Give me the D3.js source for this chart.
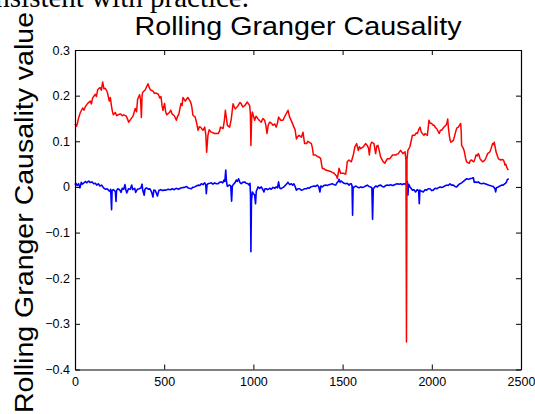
<!DOCTYPE html>
<html>
<head>
<meta charset="utf-8">
<script src="https://cdn.jsdelivr.net/npm/d3@7"></script>
<style>
  html, body { margin: 0; padding: 0; background: #fff; }
  svg { display: block; }
</style>
</head>
<body>
<script>
// ---------- data ----------
const titleText = "Rolling Granger Causality";
const yLabelText = "Rolling Granger Causality value";
const captionText = "consistent with practice.";
const xTicks = [0, 500, 1000, 1500, 2000, 2500];
const yTicks = [-0.4, -0.3, -0.2, -0.1, 0, 0.1, 0.2, 0.3];
const xDomain = [0, 2500];
const yDomain = [-0.4, 0.3];

// red series: [observation index, value]
const redSeries = [[0,0.138],[9,0.133],[21,0.152],[30,0.163],[43,0.173],[50,0.168],[58,0.176],[71,0.183],[86,0.188],[92,0.182],[99,0.195],[114,0.203],[120,0.198],[127,0.213],[140,0.218],[148,0.212],[155,0.23],[162,0.215],[170,0.216],[181,0.208],[192,0.188],[198,0.196],[204,0.178],[210,0.165],[215,0.158],[226,0.163],[234,0.156],[241,0.158],[256,0.16],[265,0.156],[273,0.158],[288,0.155],[295,0.148],[301,0.142],[312,0.148],[325,0.155],[338,0.172],[345,0.165],[351,0.192],[362,0.202],[368,0.19],[372,0.152],[376,0.2],[379,0.207],[394,0.213],[402,0.22],[409,0.226],[416,0.218],[422,0.213],[437,0.21],[445,0.205],[452,0.206],[467,0.203],[475,0.195],[482,0.198],[488,0.178],[493,0.168],[502,0.183],[508,0.165],[514,0.158],[529,0.163],[537,0.168],[544,0.16],[557,0.156],[568,0.146],[575,0.155],[581,0.158],[594,0.183],[600,0.178],[605,0.196],[618,0.188],[625,0.192],[633,0.196],[648,0.186],[655,0.175],[661,0.157],[674,0.153],[682,0.14],[690,0.124],[697,0.132],[704,0.131],[717,0.124],[727,0.131],[733,0.115],[738,0.076],[745,0.113],[752,0.125],[764,0.12],[783,0.117],[802,0.117],[810,0.122],[815,0.131],[830,0.128],[837,0.145],[843,0.168],[849,0.15],[854,0.135],[867,0.131],[876,0.149],[886,0.182],[893,0.175],[899,0.171],[914,0.178],[925,0.185],[932,0.182],[940,0.175],[951,0.178],[966,0.186],[979,0.178],[983,0.16],[986,0.091],[990,0.15],[994,0.164],[1007,0.146],[1015,0.155],[1026,0.149],[1035,0.145],[1044,0.142],[1053,0.15],[1063,0.146],[1070,0.135],[1076,0.117],[1083,0.135],[1091,0.142],[1100,0.14],[1110,0.135],[1120,0.138],[1128,0.131],[1135,0.14],[1141,0.153],[1153,0.146],[1166,0.146],[1179,0.157],[1186,0.162],[1194,0.168],[1203,0.153],[1216,0.142],[1227,0.131],[1234,0.125],[1241,0.105],[1248,0.11],[1256,0.113],[1269,0.109],[1278,0.12],[1287,0.095],[1298,0.095],[1305,0.1],[1312,0.098],[1325,0.095],[1331,0.085],[1336,0.07],[1349,0.07],[1362,0.066],[1370,0.065],[1377,0.062],[1382,0.05],[1386,0.041],[1395,0.04],[1405,0.037],[1415,0.036],[1424,0.035],[1433,0.034],[1442,0.032],[1452,0.03],[1461,0.026],[1466,0.024],[1470,0.019],[1476,0.03],[1480,0.041],[1489,0.03],[1504,0.03],[1517,0.028],[1522,0.04],[1526,0.055],[1536,0.059],[1549,0.055],[1560,0.07],[1569,0.088],[1579,0.095],[1588,0.08],[1595,0.088],[1601,0.084],[1616,0.088],[1629,0.095],[1638,0.091],[1645,0.085],[1650,0.07],[1656,0.092],[1663,0.098],[1676,0.095],[1685,0.073],[1692,0.09],[1698,0.091],[1705,0.08],[1713,0.066],[1728,0.055],[1737,0.052],[1751,0.062],[1765,0.062],[1780,0.07],[1797,0.07],[1812,0.073],[1825,0.08],[1838,0.073],[1850,0.077],[1855,0.06],[1858,-0.34],[1861,0.06],[1866,0.08],[1877,0.088],[1884,0.1],[1891,0.113],[1904,0.113],[1912,0.118],[1919,0.117],[1926,0.125],[1934,0.131],[1941,0.12],[1947,0.117],[1956,0.113],[1962,0.117],[1975,0.113],[1980,0.13],[1984,0.146],[1990,0.14],[1999,0.139],[2007,0.135],[2014,0.135],[2020,0.13],[2027,0.128],[2035,0.122],[2042,0.117],[2048,0.124],[2055,0.124],[2062,0.128],[2068,0.131],[2079,0.135],[2085,0.14],[2089,0.149],[2093,0.13],[2098,0.113],[2103,0.102],[2107,0.098],[2114,0.1],[2121,0.102],[2128,0.112],[2136,0.124],[2142,0.13],[2149,0.131],[2155,0.135],[2162,0.139],[2165,0.12],[2167,0.091],[2172,0.088],[2177,0.084],[2182,0.078],[2186,0.07],[2190,0.062],[2195,0.055],[2203,0.053],[2210,0.052],[2216,0.058],[2223,0.059],[2230,0.056],[2236,0.055],[2242,0.062],[2248,0.07],[2255,0.068],[2261,0.073],[2266,0.068],[2270,0.062],[2278,0.058],[2285,0.055],[2292,0.057],[2298,0.059],[2305,0.065],[2313,0.073],[2320,0.075],[2326,0.077],[2333,0.085],[2341,0.095],[2346,0.093],[2350,0.098],[2355,0.088],[2360,0.077],[2366,0.07],[2373,0.062],[2380,0.06],[2386,0.059],[2394,0.06],[2401,0.059],[2406,0.055],[2410,0.048],[2415,0.05],[2419,0.044],[2424,0.04],[2429,0.037]];

// blue series: [observation index, value]
const blueSeries = [[0,0.005],[5,0.008],[12,0.003],[20,0.007],[28,-0.002],[35,0.01],[40,0.006],[48,0.008],[58,0.012],[65,0.009],[77,0.013],[84,0.01],[95,0.011],[105,0.007],[114,0.008],[122,0.004],[131,0.007],[140,0.002],[150,0.004],[160,-0.002],[170,-0.005],[180,-0.004],[190,-0.008],[196,-0.01],[200,-0.005],[205,-0.05],[208,-0.008],[215,-0.006],[226,-0.01],[230,-0.032],[233,-0.008],[240,-0.004],[250,-0.006],[258,-0.012],[265,-0.003],[273,-0.005],[280,0.005],[285,-0.006],[290,-0.013],[300,-0.004],[310,-0.005],[318,0.004],[324,-0.006],[335,-0.003],[340,-0.012],[350,-0.005],[360,-0.004],[370,-0.002],[376,0.006],[380,-0.008],[388,-0.018],[392,-0.005],[400,-0.002],[413,-0.005],[420,-0.004],[430,-0.012],[437,-0.022],[442,-0.007],[450,-0.008],[462,-0.02],[470,-0.008],[480,-0.006],[492,-0.008],[500,-0.007],[510,-0.007],[522,-0.005],[535,-0.006],[545,-0.004],[556,-0.006],[567,-0.003],[580,-0.005],[590,-0.003],[600,-0.002],[612,-0.001],[626,0.001],[633,-0.002],[640,-0.003],[652,-0.004],[660,-0.001],[671,0],[680,0.002],[690,0.004],[700,0.003],[708,0.007],[718,0.005],[727,0.009],[733,0.005],[736,-0.015],[740,0.004],[745,0.007],[755,0.008],[764,0.009],[773,0.006],[783,0.009],[792,0.007],[802,0.007],[810,0.01],[820,0.011],[828,0.009],[835,0.015],[840,0.012],[845,0.037],[849,0.012],[854,0.001],[860,0.003],[867,0.004],[873,0.002],[878,-0.031],[882,0.002],[891,0.007],[898,0.01],[904,0.015],[910,0.012],[917,0.018],[924,0.01],[932,0.007],[940,0.01],[951,0.011],[960,0.008],[970,0.007],[977,0.004],[981,0.008],[984,-0.02],[986,-0.142],[989,-0.03],[994,-0.011],[1000,-0.015],[1007,-0.018],[1012,-0.037],[1016,-0.01],[1026,0],[1035,-0.003],[1044,0],[1052,-0.005],[1059,-0.011],[1065,-0.004],[1072,-0.004],[1080,-0.006],[1091,-0.003],[1100,-0.005],[1110,-0.001],[1120,-0.003],[1128,0],[1135,-0.002],[1141,0.011],[1147,-0.002],[1153,-0.004],[1162,-0.002],[1171,0],[1178,0.003],[1185,0.006],[1194,0.01],[1203,0.005],[1213,0.007],[1220,0.004],[1227,0.007],[1234,0.001],[1241,-0.007],[1250,-0.004],[1259,-0.004],[1268,-0.007],[1278,-0.006],[1287,-0.004],[1297,-0.004],[1305,-0.002],[1312,-0.003],[1321,0],[1330,0.001],[1340,0.002],[1349,0.001],[1358,0.004],[1366,0.001],[1373,-0.011],[1378,0.002],[1386,0],[1395,0.003],[1405,0.004],[1414,0.003],[1424,0.005],[1433,0.006],[1442,0.007],[1452,0.005],[1461,0.004],[1470,0.01],[1476,0.012],[1480,0.017],[1486,0.01],[1492,0.013],[1498,0.011],[1508,0.008],[1517,0.007],[1526,0.008],[1536,0.004],[1543,0.007],[1549,0.007],[1553,0.002],[1556,-0.062],[1559,0],[1564,-0.001],[1573,0.002],[1582,0],[1592,-0.002],[1601,0],[1610,-0.001],[1620,0],[1629,0.002],[1638,0.004],[1648,0.001],[1657,0],[1664,-0.002],[1668,-0.071],[1672,-0.004],[1680,0],[1687,0.002],[1694,0],[1703,0.003],[1713,0.004],[1722,0.001],[1732,0],[1741,0.003],[1751,0.004],[1760,0.003],[1769,0.005],[1778,0.003],[1788,0.004],[1797,0.006],[1807,0.007],[1816,0.006],[1825,0.007],[1835,0.005],[1844,0.007],[1852,0.006],[1858,0.009],[1863,0.012],[1866,-0.018],[1870,0.006],[1878,0],[1884,-0.003],[1891,-0.007],[1900,-0.006],[1909,-0.011],[1918,-0.006],[1926,-0.008],[1930,-0.037],[1933,-0.007],[1940,-0.009],[1947,-0.01],[1952,-0.011],[1962,-0.006],[1971,-0.007],[1980,-0.004],[1990,-0.004],[1999,-0.008],[2008,-0.007],[2018,-0.003],[2027,-0.004],[2036,-0.002],[2046,0],[2055,-0.001],[2064,0],[2073,0.002],[2083,0.004],[2092,0.003],[2102,0.007],[2110,0.004],[2121,0.004],[2130,0.001],[2139,0],[2148,0.004],[2158,0.007],[2167,0.009],[2177,0.012],[2186,0.015],[2195,0.018],[2205,0.017],[2214,0.018],[2224,0.019],[2233,0.02],[2238,0.01],[2242,0.011],[2252,0.01],[2261,0.011],[2270,0.008],[2279,0.007],[2289,0.008],[2298,0.007],[2307,0.006],[2317,0.004],[2326,0.003],[2335,0.002],[2345,0.001],[2350,-0.002],[2354,-0.004],[2358,-0.011],[2362,-0.002],[2373,0],[2382,0.002],[2391,0.004],[2400,0.004],[2410,0.007],[2418,0.01],[2423,0.016],[2431,0.018]];

// ---------- drawing ----------
const W = 535, H = 414;
const plot = { left: 75, right: 521, top: 50, bottom: 369.5 };

const svg = d3.select("body").append("svg")
  .attr("width", W).attr("height", H)
  .attr("viewBox", `0 0 ${W} ${H}`);

svg.append("rect").attr("width", W).attr("height", H).attr("fill", "#fff");

const x = d3.scaleLinear().domain(xDomain).range([plot.left, plot.right]);
const y = d3.scaleLinear().domain(yDomain).range([plot.bottom, plot.top]);

// clipped caption text from the surrounding document (cut off at the top, as in the reference)
svg.append("text")
  .attr("x", 249).attr("y", 7)
  .attr("text-anchor", "end")
  .attr("font-family", "'Liberation Serif', 'Times New Roman', serif")
  .attr("font-size", 29)
  .attr("fill", "#000")
  .text(captionText);

const line = d3.line().x(d => x(d[0])).y(d => y(d[1]));

const g = svg.append("g");

g.append("path")
  .datum(blueSeries)
  .attr("d", line)
  .attr("fill", "none")
  .attr("stroke", "#0000ff")
  .attr("stroke-width", 1.6)
  .attr("stroke-linejoin", "round");

g.append("path")
  .datum(redSeries)
  .attr("d", line)
  .attr("fill", "none")
  .attr("stroke", "#ff0000")
  .attr("stroke-width", 1.5)
  .attr("stroke-linejoin", "round");

const tickFont = "'Liberation Sans', Arial, Helvetica, sans-serif";
const fmtY = d => (Math.abs(d) < 1e-9 ? "0" : d3.format(".1f")(d));

function styleAxis(sel) {
  sel.selectAll(".domain").attr("stroke", "#000").attr("stroke-width", 1.2);
  sel.selectAll(".tick line").attr("stroke", "#000").attr("stroke-width", 1);
  sel.selectAll(".tick text")
    .attr("font-family", tickFont)
    .attr("font-size", 12.5)
    .attr("fill", "#000");
}

svg.append("g")
  .attr("transform", `translate(0,${plot.bottom})`)
  .call(d3.axisBottom(x).tickValues(xTicks).tickFormat(d3.format("d"))
        .tickSizeInner(-5).tickSizeOuter(0).tickPadding(8))
  .call(styleAxis);

svg.append("g")
  .attr("transform", `translate(0,${plot.top})`)
  .call(d3.axisTop(x).tickValues(xTicks).tickFormat("")
        .tickSizeInner(-5).tickSizeOuter(0))
  .call(styleAxis);

svg.append("g")
  .attr("transform", `translate(${plot.left},0)`)
  .call(d3.axisLeft(y).tickValues(yTicks).tickFormat(fmtY)
        .tickSizeInner(-5).tickSizeOuter(0).tickPadding(5))
  .call(styleAxis);

svg.append("g")
  .attr("transform", `translate(${plot.right},0)`)
  .call(d3.axisRight(y).tickValues(yTicks).tickFormat("")
        .tickSizeInner(-5).tickSizeOuter(0))
  .call(styleAxis);

// title
svg.append("text")
  .attr("x", (plot.left + plot.right) / 2)
  .attr("y", 35)
  .attr("text-anchor", "middle")
  .attr("font-family", tickFont)
  .attr("font-size", 25.5)
  .attr("textLength", 327)
  .attr("lengthAdjust", "spacingAndGlyphs")
  .attr("fill", "#000")
  .text(titleText);

// y-axis label
svg.append("text")
  .attr("transform", `translate(33,${(413 + 12) / 2}) rotate(-90)`)
  .attr("text-anchor", "middle")
  .attr("font-family", tickFont)
  .attr("font-size", 25.5)
  .attr("textLength", 401)
  .attr("lengthAdjust", "spacingAndGlyphs")
  .attr("fill", "#000")
  .text(yLabelText);
</script>
</body>
</html>
